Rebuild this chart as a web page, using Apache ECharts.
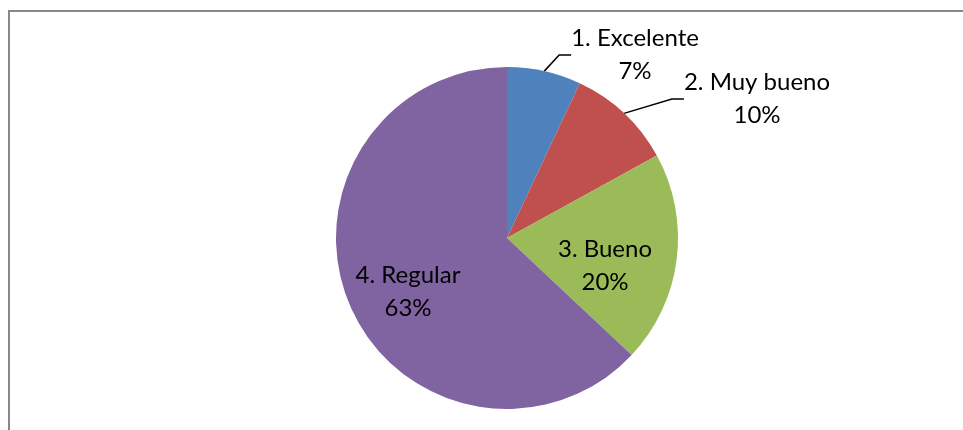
<!DOCTYPE html>
<html>
<head>
<meta charset="utf-8">
<script src="https://cdn.jsdelivr.net/npm/echarts@6/dist/echarts.min.js"></script>
<style>
html,body{margin:0;padding:0;background:#fff;}
#chart{width:963px;height:430px;}
</style>
</head>
<body>
<div id="chart"></div>
<script>
var categories = ['1. Excelente', '2. Muy bueno', '3. Bueno', '4. Regular'];
var values = [7, 10, 20, 63];
var colors = ['#4F81BD', '#C0504D', '#9BBB59', '#8064A2'];

var labelPos = [[635, 55], [757, 99], [605, 266], [408, 292]];

var chart = echarts.init(document.getElementById('chart'), null, {renderer: 'canvas'});
var data = categories.map(function (c, i) {
  var outside = i < 2;
  return {
    name: c,
    value: values[i],
    itemStyle: {color: colors[i]},
    label: {position: outside ? 'outside' : 'inside'},
    labelLine: {show: outside}
  };
});

chart.setOption({
  animation: false,
  backgroundColor: '#fff',
  graphic: [{
    type: 'polyline',
    shape: {points: [[9, 432], [9, 11], [965, 11]]},
    style: {stroke: '#878787', lineWidth: 2, fill: null},
    silent: true
  }],
  series: [{
    type: 'pie',
    center: [507, 238],
    radius: 171,
    startAngle: 90,
    clockwise: true,
    data: data,
    itemStyle: {borderWidth: 0},
    label: {
      show: true,
      formatter: function (p) { return p.name + '\n' + Math.round(p.percent) + '%'; },
      fontFamily: 'Lato',
      fontSize: 24,
      lineHeight: 33,
      color: '#000',
      align: 'center'
    },
    labelLine: {
      show: true,
      length: 12,
      length2: 12,
      lineStyle: {color: '#000', width: 1.5}
    },
    labelLayout: function (p) {
      var pos = labelPos[p.dataIndex];
      return {x: pos[0], y: pos[1], align: 'center', verticalAlign: 'middle'};
    }
  }]
});
</script>
</body>
</html>
